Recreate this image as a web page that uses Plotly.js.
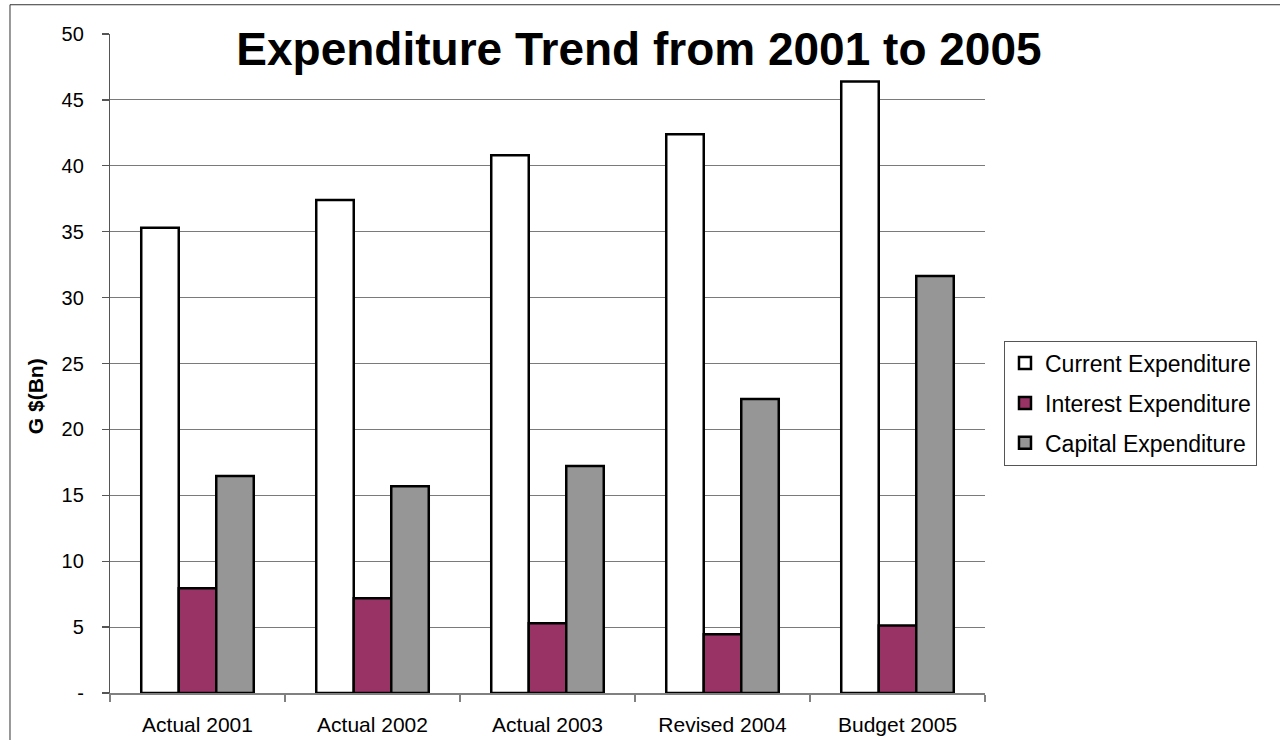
<!DOCTYPE html>
<html>
<head>
<meta charset="utf-8">
<script src="https://cdn.plot.ly/plotly-3.0.1.min.js"></script>
<style>
  html, body { margin: 0; padding: 0; background: #ffffff; }
  #chart { width: 1280px; height: 740px; }
</style>
</head>
<body>
<div id="chart"></div>
<script>
// Expenditure by year, G$ billions
const categories = ["Actual 2001", "Actual 2002", "Actual 2003", "Revised 2004", "Budget 2005"];
const currentExpenditure = [35.3, 37.4, 40.8, 42.4, 46.4];
const interestExpenditure = [7.94, 7.18, 5.29, 4.46, 5.12];
const capitalExpenditure = [16.46, 15.68, 17.22, 22.31, 31.64];

const yTickVals = [0, 5, 10, 15, 20, 25, 30, 35, 40, 45, 50];
const yTickText = ["-", "5", "10", "15", "20", "25", "30", "35", "40", "45", "50"];
const gridVals = [5, 10, 15, 20, 25, 30, 35, 40, 45];

const FONT = "Liberation Sans, Arial, Helvetica, sans-serif";
const outline = { color: "#000000", width: 2.5 };

function barTrace(name, values, fill, group) {
  return {
    type: "bar",
    name: name,
    x: categories,
    y: values,
    legendgroup: group,
    marker: { color: fill, line: outline },
    hoverinfo: "x+y+name"
  };
}

const data = [
  barTrace("Current Expenditure", currentExpenditure, "#ffffff", "g1"),
  barTrace("Interest Expenditure", interestExpenditure, "#993366", "g2"),
  barTrace("Capital Expenditure", capitalExpenditure, "#969696", "g3")
];

const layout = {
  width: 1280,
  height: 740,
  margin: { l: 110, r: 295, t: 33.5, b: 46.7, pad: 0 },
  paper_bgcolor: "#ffffff",
  plot_bgcolor: "rgba(0,0,0,0)",
  font: { family: FONT, color: "#000000" },
  barmode: "group",
  bargap: 0.357,
  bargroupgap: 0,
  title: {
    text: "Expenditure Trend from 2001 to 2005",
    font: { family: FONT, size: 46, color: "#000000", weight: "bold" },
    xref: "container",
    x: 0.4992,
    xanchor: "center",
    yref: "container",
    y: 0.934,
    yanchor: "middle"
  },
  xaxis: {
    type: "category",
    showgrid: false,
    showline: true,
    linecolor: "#808080",
    linewidth: 1.5,
    ticks: "outside",
    tickson: "boundaries",
    ticklen: 7,
    tickcolor: "#808080",
    tickwidth: 1.2,
    tickfont: { family: FONT, size: 21, color: "#000000" },
    ticklabelstandoff: 12,
    zeroline: false,
    fixedrange: true
  },
  yaxis: {
    range: [0, 50],
    tickvals: yTickVals,
    ticktext: yTickText,
    showgrid: false,
    zeroline: false,
    showline: true,
    linecolor: "#555555",
    linewidth: 1.2,
    ticks: "outside",
    ticklen: 7,
    tickcolor: "#555555",
    tickwidth: 1.2,
    tickfont: { family: FONT, size: 20, color: "#000000" },
    ticklabelstandoff: 14,
    fixedrange: true
  },
  yaxis2: {
    overlaying: "y",
    range: [0, 50],
    tickvals: gridVals,
    showticklabels: false,
    ticks: "",
    showgrid: true,
    gridcolor: "#7a7a7a",
    gridwidth: 1,
    zeroline: false,
    showline: false,
    fixedrange: true
  },
  showlegend: true,
  legend: {
    x: 1.0217,
    xanchor: "left",
    y: 0.44,
    yanchor: "middle",
    traceorder: "grouped",
    tracegroupgap: 7,
    bgcolor: "#ffffff",
    bordercolor: "#555555",
    borderwidth: 1,
    font: { family: FONT, size: 23, color: "#000000" }
  },
  annotations: [
    {
      text: "G $(Bn)",
      xref: "paper",
      yref: "paper",
      x: -0.0857,
      y: 0.4505,
      xanchor: "center",
      yanchor: "middle",
      textangle: -90,
      showarrow: false,
      font: { family: FONT, size: 21, color: "#000000", weight: "bold" }
    }
  ],
  shapes: [
    {
      type: "rect",
      xref: "paper",
      yref: "paper",
      x0: -0.1143,
      x1: 1.6,
      y0: -0.3,
      y1: 1.0444,
      line: { color: "#333333", width: 1 },
      fillcolor: "rgba(0,0,0,0)",
      layer: "above"
    }
  ]
};

// hidden trace binding yaxis2 so the overlay grid is laid out
data.push({
  type: "scatter",
  x: [categories[0]],
  y: [0],
  yaxis: "y2",
  mode: "markers",
  marker: { opacity: 0 },
  showlegend: false,
  hoverinfo: "skip"
});

Plotly.newPlot("chart", data, layout, { displayModeBar: false, staticPlot: true });
</script>
</body>
</html>
